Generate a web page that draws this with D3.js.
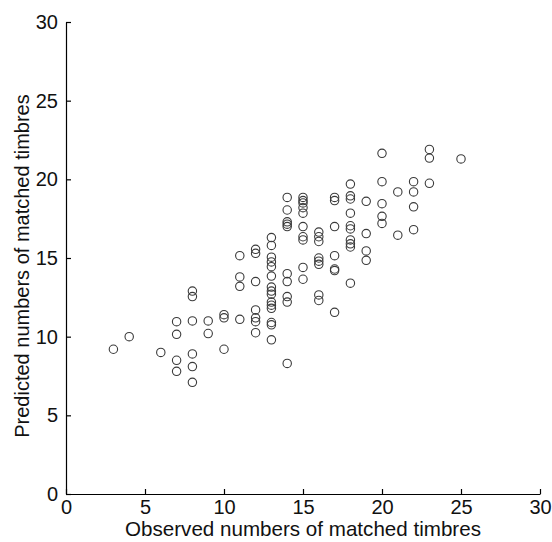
<!DOCTYPE html>
<html lang="en">
<head>
  <meta charset="UTF-8" />
  <title>Observed vs predicted matched timbres</title>
  <script src="https://d3js.org/d3.v7.min.js"></script>
  <style>
    html, body {
      margin: 0;
      padding: 0;
      background: #fff;
      overflow: hidden;
      font-family: "Liberation Sans", Arial, Helvetica, sans-serif;
    }
    .axis path, .axis line { stroke: #000; stroke-width: 1.2; }
    .axis text { font-size: 20px; fill: #111; font-family: "Liberation Sans", Arial, sans-serif; }
  </style>
</head>
<body>
  <div id="chart"></div>

  <script>
    // observed counts (x) and predicted counts (y), one column per observed value
    const observed = [
      3, 4, 6,
      7, 7, 7, 7,
      8, 8, 8, 8, 8, 8,
      9, 9,
      10, 10, 10,
      11, 11, 11, 11,
      12, 12, 12, 12, 12, 12, 12,
      13, 13, 13, 13, 13, 13, 13, 13, 13, 13, 13, 13, 13, 13, 13,
      14, 14, 14, 14, 14, 14, 14, 14, 14, 14,
      15, 15, 15, 15, 15, 15, 15, 15, 15, 15,
      16, 16, 16, 16, 16, 16, 16, 16,
      17, 17, 17, 17, 17, 17, 17,
      18, 18, 18, 18, 18, 18, 18, 18, 18, 18,
      19, 19, 19, 19,
      20, 20, 20, 20, 20,
      21, 21,
      22, 22, 22, 22,
      23, 23, 23,
      25
    ];
    const predicted = [
      9.2, 10.0, 9.0,
      10.95, 10.15, 8.5, 7.8,
      12.9, 12.55, 11.0, 8.9, 8.1, 7.1,
      11.0, 10.2,
      11.4, 11.2, 9.2,
      15.15, 13.8, 13.2, 11.1,
      15.55, 15.3, 13.5, 11.7, 11.2, 10.95, 10.25,
      16.3, 15.8, 15.05, 14.75, 14.45, 13.85, 13.15, 12.9, 12.7, 12.2, 12.0, 11.8, 10.9, 10.75, 9.8,
      18.85, 18.05, 17.3, 17.15, 17.0, 14.0, 13.5, 12.55, 12.2, 8.3,
      18.85, 18.65, 18.5, 18.2, 17.85, 17.0, 16.35, 16.15, 14.4, 13.65,
      16.65, 16.35, 16.05, 15.0, 14.8, 14.6, 12.65, 12.3,
      18.85, 18.65, 17.0, 15.15, 14.3, 14.2, 11.55,
      19.7, 18.95, 18.75, 17.85, 17.05, 16.85, 16.15, 15.9, 15.7, 13.4,
      18.6, 16.55, 15.45, 14.85,
      21.65, 19.85, 18.45, 17.65, 17.2,
      19.2, 16.45,
      19.85, 19.2, 18.25, 16.8,
      21.9, 21.35, 19.75,
      21.3
    ];
    const xTicks = [0, 5, 10, 15, 20, 25, 30];
    const yTicks = [0, 5, 10, 15, 20, 25, 30];

    const width = 552, height = 542;
    const margin = { top: 22, right: 12, bottom: 48, left: 66 };

    const svg = d3.select("#chart")
      .append("svg")
      .attr("width", width)
      .attr("height", height);

    const x = d3.scaleLinear().domain([0, 30]).range([margin.left, width - margin.right]);
    const y = d3.scaleLinear().domain([0, 30]).range([height - margin.bottom, margin.top]);

    // axes with inward ticks, matlab style
    svg.append("g")
      .attr("class", "axis")
      .attr("transform", `translate(0,${height - margin.bottom})`)
      .call(d3.axisBottom(x).tickValues(xTicks).tickSizeInner(-5).tickSizeOuter(0).tickPadding(6))
      .call(g => g.selectAll("text").attr("dy", "0.71em"));

    svg.append("g")
      .attr("class", "axis")
      .attr("transform", `translate(${margin.left},0)`)
      .call(d3.axisLeft(y).tickValues(yTicks).tickSizeInner(-5).tickSizeOuter(0).tickPadding(8));

    // points
    const pts = observed.map((o, i) => ({ o, p: predicted[i] }));
    svg.append("g")
      .selectAll("circle")
      .data(pts)
      .enter()
      .append("circle")
      .attr("cx", d => x(d.o))
      .attr("cy", d => y(d.p))
      .attr("r", 4.2)
      .attr("fill", "none")
      .attr("stroke", "#3a3a3a")
      .attr("stroke-width", 1.1);

    // axis titles
    svg.append("text")
      .attr("x", (margin.left + width - margin.right) / 2)
      .attr("y", 536)
      .attr("text-anchor", "middle")
      .attr("font-size", 20.6)
      .attr("fill", "#111")
      .text("Observed numbers of matched timbres");

    svg.append("text")
      .attr("transform", `translate(29,266) rotate(-90)`)
      .attr("text-anchor", "middle")
      .attr("font-size", 20)
      .attr("fill", "#111")
      .text("Predicted numbers of matched timbres");
  </script>
</body>
</html>
